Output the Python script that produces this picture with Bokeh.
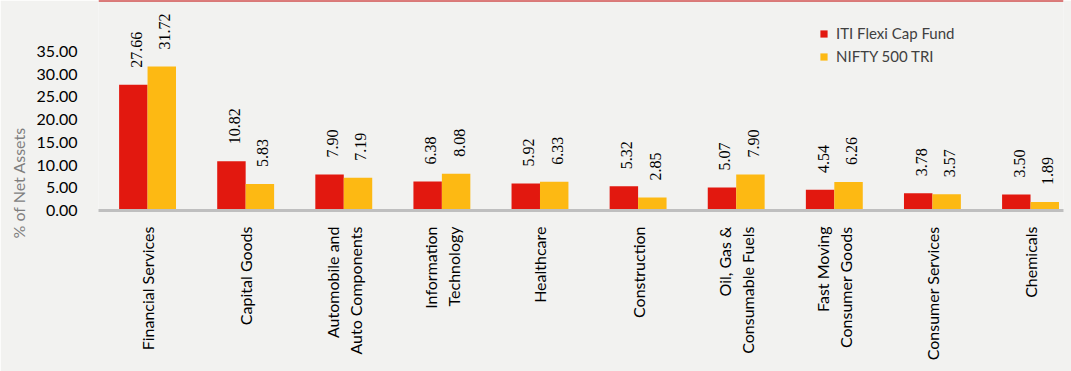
from math import pi
from bokeh.plotting import figure
from bokeh.models import (ColumnDataSource, Range1d, FixedTicker, NumeralTickFormatter,
                          LabelSet, Legend, LegendItem, Span, Title)
from bokeh.embed import file_html
from bokeh.resources import INLINE

# ---------------- data ----------------
categories = ["Financial Services", "Capital Goods", "Automobile and\nAuto Components",
              "Information\nTechnology", "Healthcare", "Construction",
              "Oil, Gas &\nConsumable Fuels", "Fast Moving\nConsumer Goods",
              "Consumer Services", "Chemicals"]
fund = [27.66, 10.82, 7.90, 6.38, 5.92, 5.32, 5.07, 4.54, 3.78, 3.50]
nifty = [31.72, 5.83, 7.19, 8.08, 6.33, 2.85, 7.90, 6.26, 3.57, 1.89]
series_names = ["ITI Flexi Cap Fund", "NIFTY 500 TRI"]
y_ticks = [0, 5, 10, 15, 20, 25, 30, 35]
y_title = "% of Net Assets"

# ---------------- style ----------------
RED = "#E2180F"
YEL = "#FDB913"
BG = "#F2F2F0"
FONT = "Lato"
BAR_W = 0.29
SHIFT = BAR_W / 2
Y_END = 46.22

xpos = [i + 0.5 for i in range(len(categories))]
src = ColumnDataSource(dict(
    x=xpos,
    x_fund=[x - SHIFT for x in xpos],
    x_nifty=[x + SHIFT for x in xpos],
    fund=fund,
    nifty=nifty,
    fund_lbl=[f"{v:.2f}" for v in fund],
    nifty_lbl=[f"{v:.2f}" for v in nifty],
))

p = figure(width=1071, height=371,
           x_range=Range1d(0, 9.836), y_range=Range1d(0, Y_END),
           output_backend="svg", toolbar_location=None,
           min_border_left=98, min_border_right=8, min_border_top=0, min_border_bottom=161,
           background_fill_color=BG, border_fill_color=BG, outline_line_color=None)

r1 = p.vbar(x="x_fund", top="fund", width=BAR_W, source=src, color=RED, line_color=None)
r2 = p.vbar(x="x_nifty", top="nifty", width=BAR_W, source=src, color=YEL, line_color=None)

p.xgrid.visible = False
p.ygrid.visible = False

# y axis
p.yaxis.ticker = FixedTicker(ticks=y_ticks)
p.yaxis.formatter = NumeralTickFormatter(format="0.00")
p.yaxis.axis_line_color = None
p.yaxis.major_tick_line_color = None
p.yaxis.minor_tick_line_color = None
p.yaxis.major_label_standoff = 15
p.yaxis.major_label_text_font = FONT
p.yaxis.major_label_text_font_size = "16px"
p.yaxis.major_label_text_color = "#000000"

# x axis
p.xaxis.ticker = FixedTicker(ticks=xpos)
p.xaxis.major_label_overrides = {x: c for x, c in zip(xpos, categories)}
p.xaxis.major_label_orientation = pi / 2
p.xaxis.axis_line_color = "#BFBFBF"
p.xaxis.axis_line_width = 3
p.xaxis.major_tick_line_color = None
p.xaxis.minor_tick_line_color = None
p.xaxis.major_label_standoff = 10
p.xaxis.major_label_text_font = FONT
p.xaxis.major_label_text_font_size = "16px"
p.xaxis.major_label_text_color = "#000000"

# value labels
for xcol, ycol, tcol in [("x_fund", "fund", "fund_lbl"), ("x_nifty", "nifty", "nifty_lbl")]:
    p.add_layout(LabelSet(x=xcol, y=ycol, text=tcol, source=src, angle=pi / 2,
                          text_align="left", text_baseline="middle",
                          x_offset=3, y_offset=17,
                          text_font=FONT, text_font_size="16px", text_color="#000000"))

# y title
p.add_layout(Title(text=y_title, align="left", offset=-28, standoff=11,
                   text_font=FONT, text_font_size="16px", text_font_style="normal",
                   text_color="#7F7F7F"), "left")

# top rule
p.add_layout(Span(location=Y_END, dimension="width", line_color="#C00000", line_width=2))

legend = Legend(items=[LegendItem(label=series_names[0], renderers=[r1]),
                       LegendItem(label=series_names[1], renderers=[r2])],
                location=(721, 145), orientation="vertical",
                glyph_width=9, glyph_height=9, label_height=9, spacing=5,
                label_standoff=8, padding=0, margin=0,
                label_text_font=FONT, label_text_font_size="15px",
                label_text_color="#404040",
                border_line_color=None, background_fill_alpha=0)
p.add_layout(legend)

open("out.html", "w").write(file_html(p, INLINE))
